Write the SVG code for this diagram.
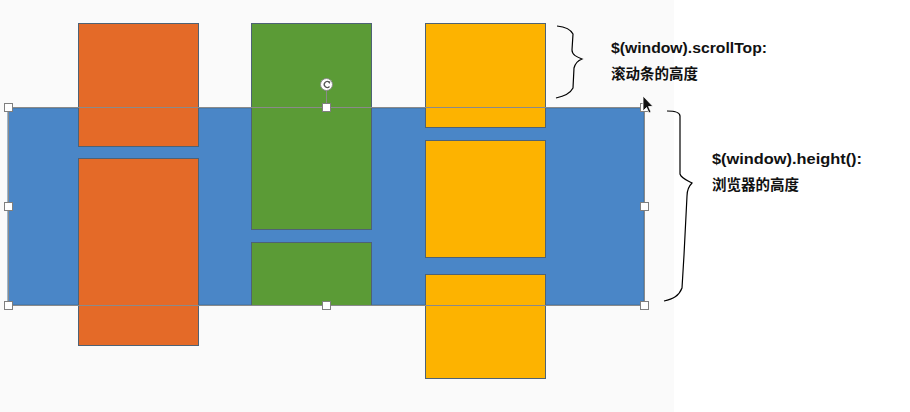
<svg xmlns="http://www.w3.org/2000/svg" width="910" height="412" viewBox="0 0 910 412">
<style>
.box{stroke:#4e6275;stroke-width:1}
.o{fill:#e46a28}
.g{fill:#5b9b36}
.y{fill:#fdb300}
.h{fill:#ffffff;stroke:#7f7f7f;stroke-width:1}
.brace{fill:none;stroke:#000;stroke-width:1.2}
.t{font-family:"Liberation Sans","Noto Sans CJK SC",sans-serif;font-weight:bold;font-size:14.5px;fill:#111}
.c{font-family:"Noto Sans CJK SC",sans-serif;font-weight:bold;font-size:14.5px;fill:#111}
</style>
<rect x="0" y="0" width="910" height="412" fill="#ffffff"/>
<rect x="0" y="0" width="674" height="412" fill="#fafafa"/>
<g id="viewport">
<rect x="8" y="108" width="636" height="197" fill="#4a86c7" stroke="#41719c" stroke-width="1"/>
</g>
<g id="orange1"><rect class="box o" x="78.5" y="23.5" width="120" height="123"/></g>
<g id="orange2"><rect class="box o" x="78.5" y="158.5" width="120" height="187"/></g>
<g id="green1"><rect class="box g" x="251.5" y="23.5" width="120" height="206"/></g>
<g id="green2"><rect class="box g" x="251.5" y="242.5" width="120" height="63"/></g>
<g id="yellow1"><rect class="box y" x="425.5" y="23.5" width="120" height="104"/></g>
<g id="yellow2"><rect class="box y" x="425.5" y="140.5" width="120" height="117"/></g>
<g id="yellow3"><rect class="box y" x="425.5" y="274.5" width="120" height="104"/></g>
<g id="selection">
<rect x="8.5" y="107.5" width="636" height="198" fill="none" stroke="#8a8a8a" stroke-width="1"/>
<line x1="326.5" y1="90" x2="326.5" y2="104" stroke="#8a8a8a"/>
<circle cx="326.5" cy="84.5" r="6" fill="#ffffff" stroke="#8a8a8a"/>
<path d="M329,82 A3,3 0 1 0 329.5,86.5" fill="none" stroke="#555" stroke-width="1.3"/>
<path d="M327.5,81 L330.5,81.5 L329.5,84 Z" fill="#555"/>
<rect class="h" x="4.5" y="103.5" width="8" height="8"/>
<rect class="h" x="322.5" y="103.5" width="8" height="8"/>
<rect class="h" x="640.5" y="103.5" width="8" height="8"/>
<rect class="h" x="4.5" y="202.5" width="8" height="8"/>
<rect class="h" x="640.5" y="202.5" width="8" height="8"/>
<rect class="h" x="4.5" y="301.5" width="8" height="8"/>
<rect class="h" x="322.5" y="301.5" width="8" height="8"/>
<rect class="h" x="640.5" y="301.5" width="8" height="8"/>
</g>
<g id="cursor">
<path d="M643,96 L643,111 L646.5,107.5 L649,113 L651,112 L648.5,106.5 L653,106.5 Z" fill="#111" stroke="#fff" stroke-width="0.8"/>
</g>
<g id="connectors">
<path class="brace" d="M557,26 C566,27 571,30 573,34 L572,50 C572,55 577,57 582,59 C577,61 575,64 574,68 L573,88 C570,94 564,96 556,98"/>
<path class="brace" d="M667,111 C675,111 680,112 680,116 L680,174 C681,178 686,180 692,183 C689,186 687,190 687,196 L684,255 L682,288 C679,296 673,299 664,301"/>
</g>
<g id="label-scrolltop">
<text class="t" x="611" y="53" textLength="156" lengthAdjust="spacingAndGlyphs">$(window).scrollTop:</text>
<text class="c" x="611" y="79">滚动条的高度</text>
</g>
<g id="label-height">
<text class="t" x="712" y="164" textLength="150" lengthAdjust="spacingAndGlyphs">$(window).height():</text>
<text class="c" x="712" y="190">浏览器的高度</text>
</g>
</svg>
